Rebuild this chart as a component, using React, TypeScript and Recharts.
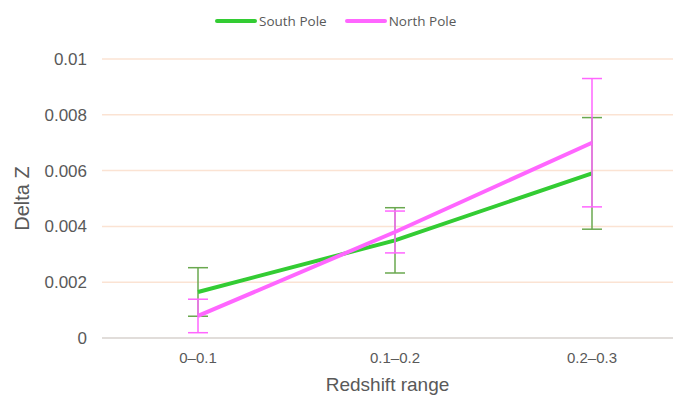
import { LineChart, Line, XAxis, YAxis, CartesianGrid, ErrorBar } from "recharts";

const categories = ["0–0.1", "0.1–0.2", "0.2–0.3"];
const southValues = [0.00165, 0.0035, 0.0059];
const southErrors = [0.00087, 0.00117, 0.002];
const northValues = [0.00079, 0.0038, 0.007];
const northErrors = [0.0006, 0.00075, 0.0023];
const yTicks = [0, 0.002, 0.004, 0.006, 0.008, 0.01];

const SOUTH = "#33cc33";
const NORTH = "#ff66ff";

const data = categories.map((c, i) => ({
  range: c,
  south: southValues[i],
  southErr: southErrors[i],
  north: northValues[i],
  northErr: northErrors[i],
}));

function LegendBox() {
  const item = (color: string, label: string) => (
    <div style={{ display: "flex", alignItems: "center", marginRight: 18 }}>
      <div style={{ width: 42, height: 4, borderRadius: 2, background: color, marginRight: 2 }} />
      <span style={{ fontSize: 13.5, color: "#595959", fontFamily: "'Open Sans', sans-serif" }}>{label}</span>
    </div>
  );
  return (
    <div style={{ position: "absolute", top: 12, left: 215, display: "flex" }}>
      {item(SOUTH, "South Pole")}
      {item(NORTH, "North Pole")}
    </div>
  );
}

export default function App() {
  return (
    <div style={{ position: "absolute", left: 0, top: 0, width: 673, height: 401, background: "#fff" }}>
      <LineChart
        width={673}
        height={401}
        data={data}
        margin={{ top: 59, right: 0, left: 0, bottom: 0 }}
        style={{ fontFamily: "'Liberation Sans', Arial, sans-serif" }}
      >
        <CartesianGrid vertical={false} stroke="#fbe3d3" strokeWidth={1.5} />
        <XAxis
          dataKey="range"
          scale="point"
          padding={{ left: 96, right: 81 }}
          height={63}
          tickLine={false}
          tickMargin={8}
          axisLine={{ stroke: "#d9d9d9", strokeWidth: 1.5 }}
          tick={{ fill: "#595959", fontSize: 15 }}
          label={{ value: "Redshift range", position: "insideBottom", offset: 10, fill: "#595959", fontSize: 19 }}
        />
        <YAxis
          width={102}
          domain={[0, 0.01]}
          ticks={yTicks}
          tickLine={false}
          axisLine={false}
          tickMargin={9}
          tick={{ fill: "#595959", fontSize: 17 }}
          label={{ value: "Delta Z", angle: -90, position: "insideLeft", offset: 22, textAnchor: "middle", fill: "#595959", fontSize: 20 }}
        />
        <Line dataKey="south" name="South Pole" stroke={SOUTH} strokeWidth={4} dot={false} isAnimationActive={false}>
          <ErrorBar dataKey="southErr" width={10} stroke="#6aa84f" strokeWidth={1.5} isAnimationActive={false} />
        </Line>
        <Line dataKey="north" name="North Pole" stroke={NORTH} strokeWidth={4} dot={false} isAnimationActive={false}>
          <ErrorBar dataKey="northErr" width={10} stroke={NORTH} strokeWidth={1.5} isAnimationActive={false} />
        </Line>
      </LineChart>
      <LegendBox />
    </div>
  );
}
